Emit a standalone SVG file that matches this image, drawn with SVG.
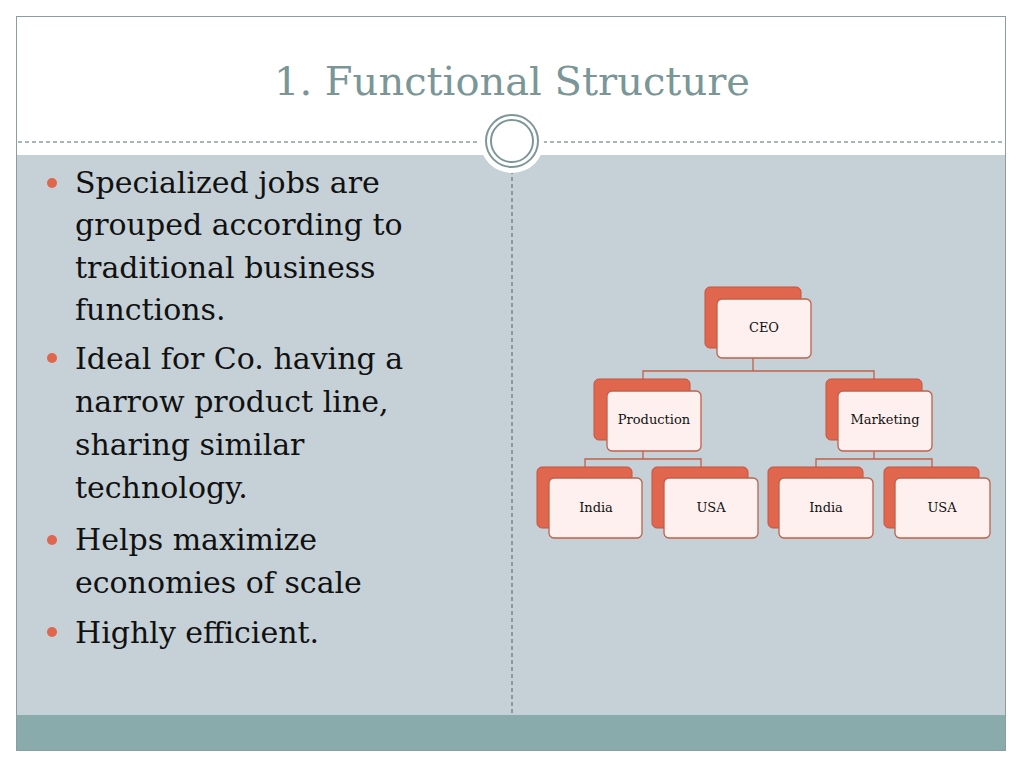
<svg xmlns="http://www.w3.org/2000/svg" width="1024" height="768" viewBox="0 0 1024 768">
<style>
.b{fill:#e0664d;stroke:#c5553f;stroke-width:1}
.f{fill:#fdf0ee;stroke:#c0604a;stroke-width:1.3}
.t{font-family:"DejaVu Serif",serif;font-size:13px;fill:#111;text-anchor:middle}
.bt{font-family:"DejaVu Serif",serif;font-size:30px;fill:#111}
.c{fill:none;stroke:#c0604a;stroke-width:1.3}
</style>
<rect width="1024" height="768" fill="#fff"/>
<rect x="16.5" y="155" width="989" height="560" fill="#c5d0d7"/>
<rect x="16.5" y="715" width="989" height="35" fill="#8aabac"/>
<rect x="16.5" y="16.5" width="989" height="734" fill="none" stroke="#8a9ea0" stroke-width="1"/>
<line x1="18" y1="142" x2="1004" y2="142" stroke="#8a9ea0" stroke-width="1.3" stroke-dasharray="4,3"/>
<line x1="512" y1="170" x2="512" y2="715" stroke="#6a7a88" stroke-width="1.3" stroke-dasharray="4,3"/>
<circle cx="512" cy="141" r="32" fill="#fff"/>
<circle cx="512" cy="141" r="26" fill="none" stroke="#7f9697" stroke-width="2"/>
<circle cx="512" cy="141" r="21" fill="none" stroke="#7f9697" stroke-width="2"/>
<text x="512" y="95" font-family="DejaVu Serif,serif" font-size="40" fill="#7a9697" text-anchor="middle">1. Functional Structure</text>
<g fill="#e0664d"><circle cx="52" cy="183" r="5"/><circle cx="52" cy="358" r="5"/><circle cx="52" cy="540" r="5"/><circle cx="52" cy="632" r="5"/></g>
<text class="bt"><tspan x="75" y="193">Specialized jobs are</tspan><tspan x="75" y="235">grouped according to</tspan><tspan x="75" y="278">traditional business</tspan><tspan x="75" y="320">functions.</tspan><tspan x="75" y="369">Ideal for Co. having a</tspan><tspan x="75" y="412">narrow product line,</tspan><tspan x="75" y="455">sharing similar</tspan><tspan x="75" y="498">technology.</tspan><tspan x="75" y="550">Helps maximize</tspan><tspan x="75" y="593">economies of scale</tspan><tspan x="75" y="643">Highly efficient.</tspan></text>
<g id="connectors" class="c">
<path d="M753 358V371M643 379V371H874V379"/>
<path d="M643 451V459M585 467V459H701V467"/>
<path d="M874 451V459M816 467V459H932V467"/>
</g>
<g id="ceo"><rect class="b" x="705" y="287" width="96" height="61" rx="5"/><rect class="f" x="717" y="299" width="94" height="59" rx="5"/><text class="t" x="764" y="332">CEO</text></g>
<g id="production"><rect class="b" x="594" y="379" width="96" height="61" rx="5"/><rect class="f" x="607" y="391" width="94" height="60" rx="5"/><text class="t" x="654" y="424">Production</text></g>
<g id="marketing"><rect class="b" x="826" y="379" width="96" height="61" rx="5"/><rect class="f" x="838" y="391" width="94" height="60" rx="5"/><text class="t" x="885" y="424">Marketing</text></g>
<g id="india1"><rect class="b" x="537" y="467" width="95" height="61" rx="5"/><rect class="f" x="549" y="478" width="93" height="60" rx="5"/><text class="t" x="596" y="512">India</text></g>
<g id="usa1"><rect class="b" x="652" y="467" width="96" height="61" rx="5"/><rect class="f" x="664" y="478" width="94" height="60" rx="5"/><text class="t" x="711" y="512">USA</text></g>
<g id="india2"><rect class="b" x="768" y="467" width="95" height="61" rx="5"/><rect class="f" x="779" y="478" width="94" height="60" rx="5"/><text class="t" x="826" y="512">India</text></g>
<g id="usa2"><rect class="b" x="884" y="467" width="95" height="61" rx="5"/><rect class="f" x="895" y="478" width="95" height="60" rx="5"/><text class="t" x="942" y="512">USA</text></g>
</svg>
